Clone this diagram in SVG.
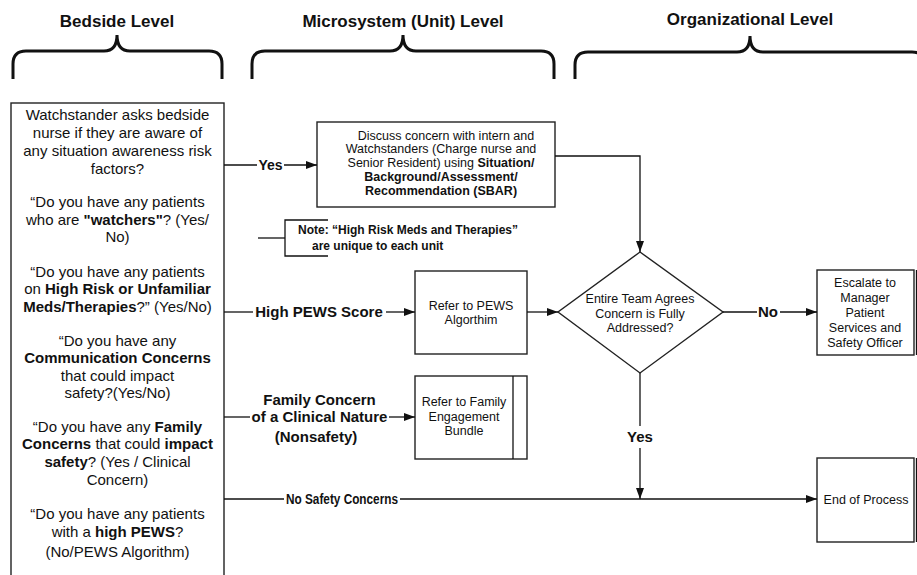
<svg xmlns="http://www.w3.org/2000/svg" width="917" height="575" viewBox="0 0 917 575">
<style>
text{font-family:"Liberation Sans",Arial,sans-serif;fill:#111}
.hd{font-size:17px;font-weight:bold;text-anchor:middle}
.lt{font-size:15px;text-anchor:middle}
.b{font-weight:bold}
.bx{fill:#fff;stroke:#222;stroke-width:1.4}
.t12{font-size:12.5px;text-anchor:middle}
.lb{font-size:15px;font-weight:bold;text-anchor:middle}
.nt{font-size:12px;font-weight:bold}
.ln{fill:none;stroke:#111;stroke-width:1.3}
.br{fill:none;stroke:#111;stroke-width:3}
</style>
<defs>
<marker id="ar" markerUnits="userSpaceOnUse" markerWidth="11" markerHeight="8" refX="11" refY="4" orient="auto">
<path d="M0,0 L11,4 L0,8 z" fill="#111"/>
</marker>
</defs>
<rect width="917" height="575" fill="#fff"/>

<g id="headers">
<text class="hd" x="117" y="27">Bedside Level</text>
<path class="br" d="M13,79 L13,64 Q13,51 26,51 L104,51 Q117,51 117,35 Q117,51 130,51 L209,51 Q222,51 222,64 L222,79"/>
<text class="hd" x="403" y="27">Microsystem (Unit) Level</text>
<path class="br" d="M252,79 L252,64 Q252,51 265,51 L390,51 Q403,51 403,35 Q403,51 416,51 L541,51 Q554,51 554,64 L554,79"/>
<text class="hd" x="750" y="25">Organizational Level</text>
<path class="br" d="M575,79 L575,65 Q575,52 588,52 L737,52 Q750,52 750,36 Q750,52 763,52 L912,52 Q925,52 925,65 L925,79"/>
</g>

<g id="bedside">
<rect class="bx" x="11" y="103" width="213" height="480"/>
<text class="lt" x="117.5" y="120">Watchstander asks bedside</text>
<text class="lt" x="117.5" y="138">nurse if they are aware of</text>
<text class="lt" x="117.5" y="156">any situation awareness risk</text>
<text class="lt" x="117.5" y="174">factors?</text>
<text class="lt" x="117.5" y="207">“Do you have any patients</text>
<text class="lt" x="117.5" y="225">who are <tspan class="b">"watchers"</tspan>? (Yes/</text>
<text class="lt" x="117.5" y="242">No)</text>
<text class="lt" x="117.5" y="277">“Do you have any patients</text>
<text class="lt" x="117.5" y="294">on <tspan class="b">High Risk or Unfamiliar</tspan></text>
<text class="lt" x="117.5" y="312"><tspan class="b">Meds/Therapies</tspan>?” (Yes/No)</text>
<text class="lt" x="117.5" y="346">“Do you have any</text>
<text class="lt" x="117.5" y="363"><tspan class="b">Communication Concerns</tspan></text>
<text class="lt" x="117.5" y="381">that could impact</text>
<text class="lt" x="117.5" y="398">safety?(Yes/No)</text>
<text class="lt" x="117.5" y="432">“Do you have any <tspan class="b">Family</tspan></text>
<text class="lt" x="117.5" y="449"><tspan class="b">Concerns</tspan> that could <tspan class="b">impact</tspan></text>
<text class="lt" x="117.5" y="467"><tspan class="b">safety</tspan>? (Yes / Clinical</text>
<text class="lt" x="117.5" y="485">Concern)</text>
<text class="lt" x="117.5" y="519">“Do you have any patients</text>
<text class="lt" x="117.5" y="537">with a <tspan class="b">high PEWS</tspan>?</text>
<text class="lt" x="117.5" y="557">(No/PEWS Algorithm)</text>
</g>

<g id="sbar">
<rect class="bx" x="317" y="122" width="238" height="85"/>
<text class="t12" x="446" y="139.5">Discuss concern with intern and</text>
<text class="t12" x="441" y="153">Watchstanders (Charge nurse and</text>
<text class="t12" x="441" y="167">Senior Resident) using <tspan class="b">Situation/</tspan></text>
<text class="t12 b" x="441" y="181">Background/Assessment/</text>
<text class="t12 b" x="441" y="195">Recommendation (SBAR)</text>
</g>

<g id="note">
<path class="ln" d="M328,220 L285,220 L285,256 L328,256"/>
<text class="nt" x="298" y="234">Note: “High Risk Meds and Therapies”</text>
<text class="nt" x="312" y="250">are unique to each unit</text>
</g>

<g id="pews">
<rect class="bx" x="415" y="271" width="112" height="83"/>
<text class="t12" x="471" y="309.5">Refer to PEWS</text>
<text class="t12" x="471" y="324">Algorthim</text>
</g>

<g id="family">
<rect class="bx" x="415" y="376" width="112" height="83"/>
<line class="ln" x1="513" y1="376" x2="513" y2="459"/>
<text class="t12" x="464" y="406">Refer to Family</text>
<text class="t12" x="464" y="420.5">Engagement</text>
<text class="t12" x="464" y="435">Bundle</text>
</g>

<g id="decision">
<path class="bx" d="M640,252 L723,312 L640,373 L558,312 Z"/>
<text class="t12" x="640" y="303">Entire Team Agrees</text>
<text class="t12" x="640" y="318">Concern is Fully</text>
<text class="t12" x="640" y="332">Addressed?</text>
</g>

<g id="escalate">
<rect class="bx" x="817" y="270" width="97" height="85"/>
<line class="ln" x1="916.5" y1="270" x2="916.5" y2="355"/>
<text class="t12" x="865" y="287">Escalate to</text>
<text class="t12" x="865" y="302">Manager</text>
<text class="t12" x="865" y="317">Patient</text>
<text class="t12" x="865" y="332">Services and</text>
<text class="t12" x="865" y="347">Safety Officer</text>
</g>

<g id="end">
<rect class="bx" x="817" y="458" width="97" height="84"/>
<line class="ln" x1="916.5" y1="458" x2="916.5" y2="542"/>
<text class="t12" x="866" y="503.5">End of Process</text>
</g>

<g id="connectors">
<line class="ln" x1="224" y1="165" x2="257" y2="165"/>
<text class="lb" x="270.5" y="170" style="font-size:14px">Yes</text>
<line class="ln" x1="284" y1="165" x2="317" y2="165" marker-end="url(#ar)"/>
<path class="ln" d="M555,156 L640,156 L640,252" marker-end="url(#ar)"/>
<line class="ln" x1="258" y1="238" x2="285" y2="238"/>
<line class="ln" x1="224" y1="312" x2="253" y2="312"/>
<text class="lb" x="319" y="317">High PEWS Score</text>
<line class="ln" x1="386" y1="312" x2="415" y2="312" marker-end="url(#ar)"/>
<line class="ln" x1="527" y1="312" x2="558" y2="312" marker-end="url(#ar)"/>
<line class="ln" x1="224" y1="417" x2="250" y2="417"/>
<text class="lb" x="319.5" y="405">Family Concern</text>
<text class="lb" x="319.5" y="422">of a Clinical Nature</text>
<text class="lb" x="316" y="442">(Nonsafety)</text>
<line class="ln" x1="389" y1="417" x2="415" y2="417" marker-end="url(#ar)"/>
<line class="ln" x1="723" y1="312" x2="757" y2="312"/>
<text class="lb" x="768" y="317">No</text>
<line class="ln" x1="780" y1="312" x2="817" y2="312" marker-end="url(#ar)"/>
<line class="ln" x1="640" y1="373" x2="640" y2="426"/>
<text class="lb" x="640" y="442">Yes</text>
<line class="ln" x1="640" y1="448" x2="640" y2="499" marker-end="url(#ar)"/>
<line class="ln" x1="224" y1="499" x2="284" y2="499"/>
<text class="lb" x="342" y="504" style="font-size:14px" textLength="112" lengthAdjust="spacingAndGlyphs">No Safety Concerns</text>
<line class="ln" x1="400" y1="499" x2="817" y2="499" marker-end="url(#ar)"/>
</g>
</svg>
